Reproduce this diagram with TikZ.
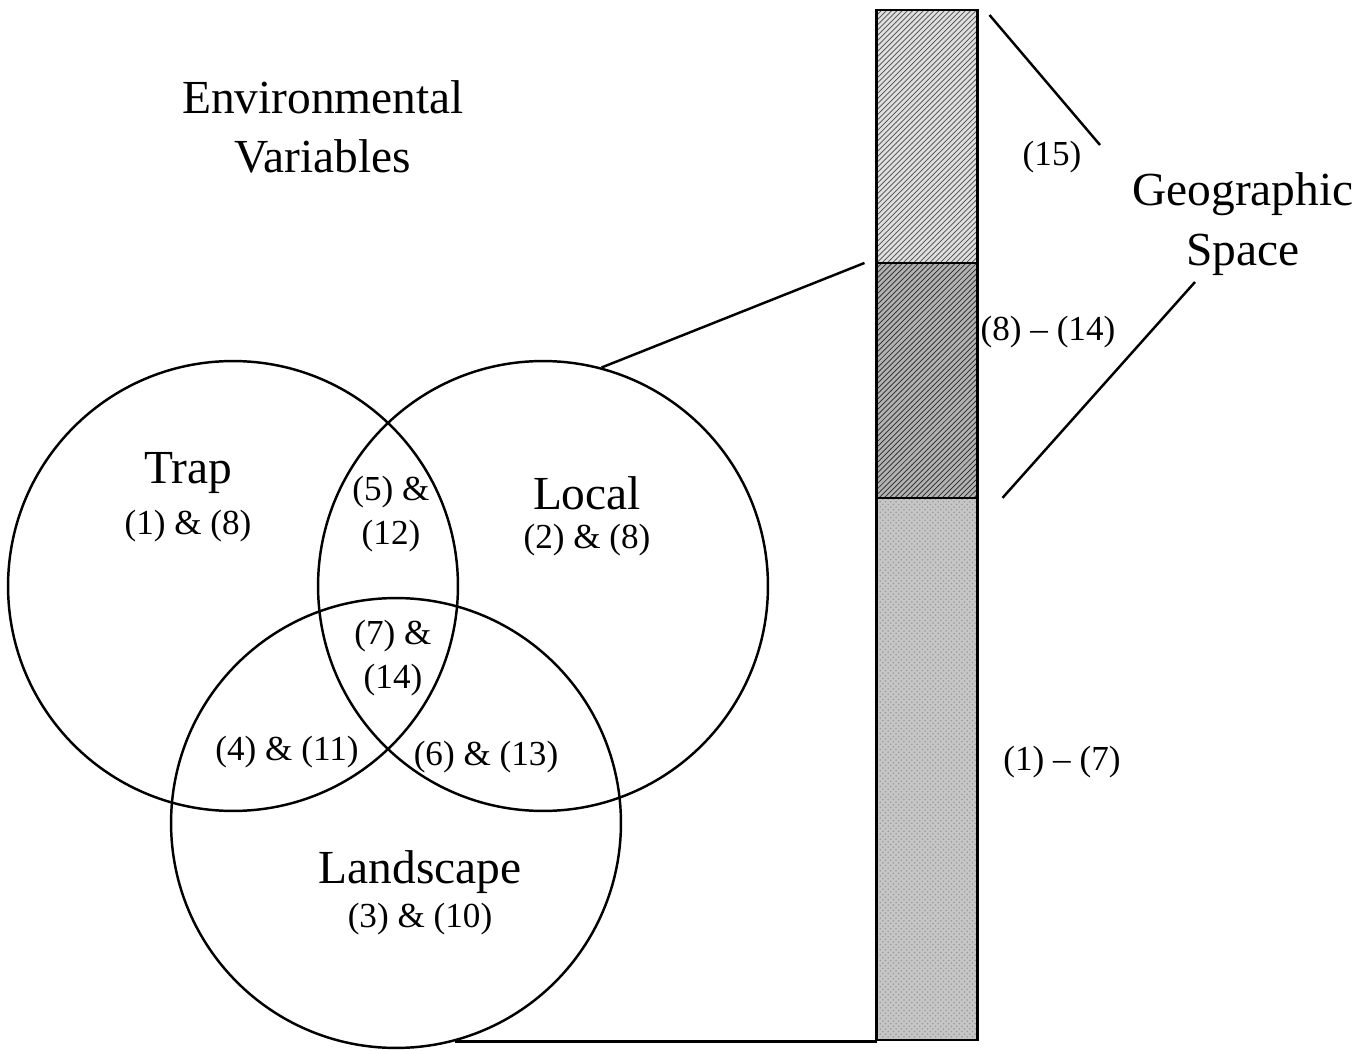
\documentclass[tikz,border=0pt]{standalone}
\usepackage{fontspec}
\setmainfont{Liberation Serif}
\usetikzlibrary{positioning, patterns, calc}

\tikzset{
  venn/.style={circle, draw, line width=1.4pt, minimum size=9cm, inner sep=0pt},
  barpart/.style={rectangle, draw, line width=1.4pt, minimum width=2.02cm, inner sep=0pt, outer sep=0pt},
  big/.style={font=\fontsize{27}{34}\selectfont, align=center, inner sep=0pt},
  lab/.style={font=\fontsize{20}{25.5}\selectfont, align=center, inner sep=0pt},
}

\begin{document}
\begin{tikzpicture}[x=0.02cm, y=-0.02cm, line width=1.4pt]
    \useasboundingbox (0,0) rectangle (1362,1050);

    % the three sets
    \node[venn] (trap) at (233,586) {};
    \node[venn] (local) at (543,586) {};
    \node[venn] (land) at (396,823) {};

    \node[big] at (323,127) {Environmental\\Variables};

    \node[big] (traptxt) at (188,473) {Trap};
    \node[lab, below=8pt of traptxt] {(1) \& (8)};
    \node[big] (localtxt) at (587,493) {Local};
    \node[lab, below=7pt of localtxt] {(2) \& (8)};
    \node[big] (landtxt) at (420,872) {Landscape};
    \node[lab, below=4pt of landtxt] {(3) \& (10)};

    \node[lab] at (391,514) {(5) \&\\(12)};
    \node[lab] at (393,658) {(7) \&\\(14)};
    \node[lab] at (287,752) {(4) \& (11)};
    \node[lab] at (486,757) {(6) \& (13)};

    % geographic space bar
    \node[barpart, anchor=north, minimum height=5.06cm, preaction={fill=gray!25}, pattern=north east lines, pattern color=black!70] (b15) at (927,10) {};
    \node[barpart, below=0pt of b15, minimum height=4.7cm, preaction={fill=gray!60}, pattern=north east lines, pattern color=black!85] (b8) {};
    \node[barpart, below=0pt of b8, minimum height=10.84cm, preaction={fill=gray!45}, pattern=crosshatch dots, pattern color=gray!80] (b1) {};
    \draw (b15.north west) rectangle (b1.south east);

    \node[lab] at (1052,157) {(15)};
    \node[lab] at (1048,332) {(8) -- (14)};
    \node[lab] at (1062,762) {(1) -- (7)};

    \node[big] (geo) at (1243,224) {Geographic\\Space};
    \coordinate (gtop) at (1100,145);
    \coordinate (gbot) at (1195,282);

    \draw (local.75) -- ([xshift=-0.24cm]b8.north west);
    \draw (land.-75) -- (land.-75 -| b1.south west);
    \draw ([shift={(12,5)}]b15.north east) -- (gtop);
    \draw ([shift={(25,0)}]b8.south east) -- (gbot);
\end{tikzpicture}
\end{document}
